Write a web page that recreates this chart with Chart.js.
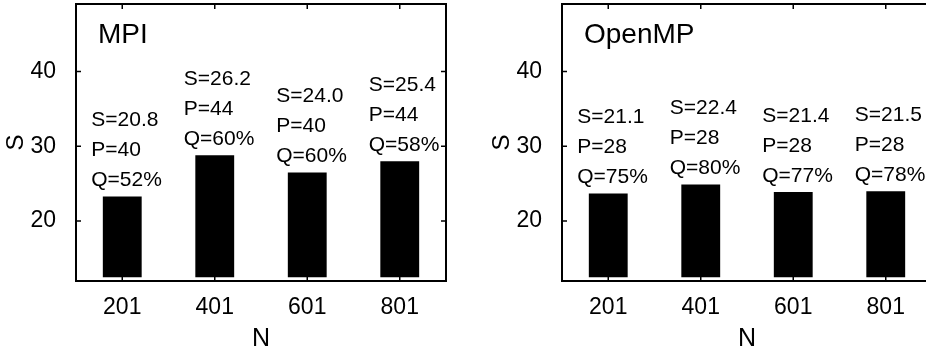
<!DOCTYPE html>
<html>
<head>
<meta charset="utf-8">
<script src="https://cdn.jsdelivr.net/npm/chart.js@4/dist/chart.umd.min.js"></script>
<style>
  html, body { margin: 0; padding: 0; background: #fff; overflow: hidden; }
  .box { position: absolute; top: 0; width: 463px; height: 355px; }
  #box1 { left: 0; }
  #box2 { left: 486px; }
</style>
</head>
<body>
<div class="box" id="box1"><canvas id="chartMpi"></canvas></div>
<div class="box" id="box2"><canvas id="chartOmp"></canvas></div>
<script>
// dados
const categories = ['201', '401', '601', '801'];
const yTicks = [20, 30, 40];

const mpiValues = [23.3, 28.8, 26.5, 28.0];
const mpiS = ['20.8', '26.2', '24.0', '25.4'];
const mpiP = [40, 44, 40, 44];
const mpiQ = [52, 60, 60, 58];

const ompValues = [23.7, 24.9, 23.9, 24.0];
const ompS = ['21.1', '22.4', '21.4', '21.5'];
const ompP = [28, 28, 28, 28];
const ompQ = [75, 80, 77, 78];

const FONT = '"Liberation Sans", Arial, sans-serif';

// moldura, ticks internos, titulo e anotacoes
const framePlugin = {
    id: 'frame',
    afterDatasetsDraw(chart, args, opts) {
        const ctx = chart.ctx;
        const a = chart.chartArea;
        const sx = chart.scales.x, sy = chart.scales.y;
        ctx.save();
        ctx.strokeStyle = '#000';
        ctx.lineWidth = 2;
        ctx.strokeRect(a.left, a.top, a.right - a.left, a.bottom - a.top);

        ctx.lineWidth = 1.5;
        ctx.beginPath();
        yTicks.forEach(v => {
            const y = sy.getPixelForValue(v);
            ctx.moveTo(a.left, y); ctx.lineTo(a.left + 5, y);
            ctx.moveTo(a.right - 5, y); ctx.lineTo(a.right, y);
        });
        categories.forEach((c, i) => {
            const x = sx.getPixelForValue(i);
            ctx.moveTo(x, a.top); ctx.lineTo(x, a.top + 5);
            ctx.moveTo(x, a.bottom); ctx.lineTo(x, a.bottom - 5);
        });
        ctx.stroke();

        ctx.fillStyle = '#000';
        ctx.textBaseline = 'middle';
        ctx.textAlign = 'left';
        ctx.font = '28px ' + FONT;
        ctx.fillText(opts.title, a.left + 22, 35);

        ctx.font = '21px ' + FONT;
        const meta = chart.getDatasetMeta(0);
        meta.data.forEach((bar, i) => {
            const lines = ['S=' + opts.s[i], 'P=' + opts.p[i], 'Q=' + opts.q[i] + '%'];
            lines.forEach((t, k) => {
                ctx.fillText(t, bar.x - 31, bar.y - 16 - (2 - k) * 30);
            });
        });
        ctx.restore();
    }
};

function makeConfig(values, title, s, p, q) {
    return {
        type: 'bar',
        data: {
            labels: categories,
            datasets: [{
                data: values,
                base: 12.5,
                backgroundColor: '#000',
                borderWidth: 0,
                barPercentage: 0.42,
                categoryPercentage: 1
            }]
        },
        options: {
            responsive: true,
            maintainAspectRatio: false,
            animation: false,
            layout: { padding: { top: 4, right: 17, bottom: 0, left: 0 } },
            plugins: {
                legend: { display: false },
                tooltip: { enabled: false },
                frame: { title: title, s: s, p: p, q: q }
            },
            scales: {
                x: {
                    type: 'category',
                    offset: true,
                    grid: { display: false },
                    border: { display: false },
                    ticks: {
                        color: '#000',
                        padding: 5,
                        font: { family: FONT, size: 23 }
                    },
                    title: {
                        display: true,
                        text: 'N',
                        color: '#000',
                        font: { family: FONT, size: 25 },
                        padding: { top: 0, bottom: 1 }
                    },
                    afterFit: scale => {
                        scale.height = 74;
                        scale.paddingLeft = 0;
                        scale.paddingRight = 0;
                    }
                },
                y: {
                    min: 12,
                    max: 49,
                    grid: { display: false },
                    border: { display: false },
                    afterBuildTicks: scale => {
                        scale.ticks = yTicks.map(v => ({ value: v }));
                    },
                    ticks: {
                        color: '#000',
                        padding: 12,
                        font: { family: FONT, size: 23 }
                    },
                    title: {
                        display: true,
                        text: 'S',
                        color: '#000',
                        font: { family: FONT, size: 24 },
                        padding: { top: 2, bottom: 0 }
                    },
                    afterFit: scale => {
                        scale.width = 76;
                        scale.paddingTop = 0;
                        scale.paddingBottom = 0;
                    }
                }
            }
        },
        plugins: [framePlugin]
    };
}

const chartMpi = new Chart(document.getElementById('chartMpi'),
    makeConfig(mpiValues, 'MPI', mpiS, mpiP, mpiQ));
const chartOmp = new Chart(document.getElementById('chartOmp'),
    makeConfig(ompValues, 'OpenMP', ompS, ompP, ompQ));
</script>
</body>
</html>
